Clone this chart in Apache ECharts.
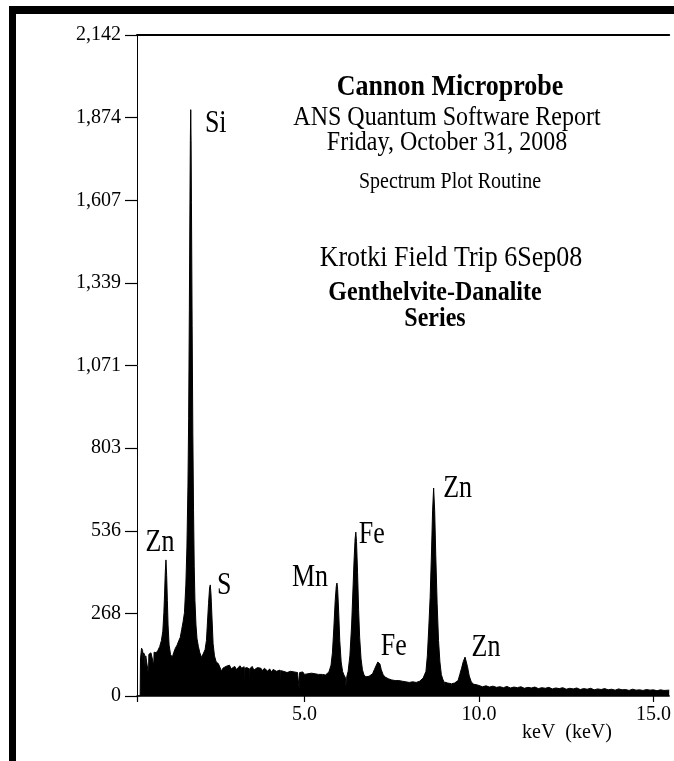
<!DOCTYPE html>
<html>
<head>
<meta charset="utf-8">
<script src="https://cdn.jsdelivr.net/npm/echarts@6/dist/echarts.min.js"></script>
<style>
html,body{margin:0;padding:0;background:#fff;}
#chart{width:674px;height:761px;}
</style>
</head>
<body>
<div id="chart"></div>
<script>
// ---- data ----
const spectrumKeV = [
0.20,0.29,0.30,0.33,0.36,0.38,0.39,0.42,0.44,0.45,0.50,0.53,0.54,0.60,0.65,0.68,0.69,0.75,0.80,0.85,
0.90,0.94,0.97,0.99,1.01,1.03,1.05,1.07,1.09,1.12,1.16,1.21,1.25,1.30,1.35,1.40,1.44,1.48,1.52,1.56,
1.60,1.63,1.66,1.68,1.70,1.72,1.73,1.74,1.75,1.76,1.78,1.80,1.82,1.84,1.86,1.89,1.92,1.96,2.00,2.05,
2.10,2.15,2.19,2.22,2.25,2.28,2.30,2.32,2.35,2.38,2.42,2.47,2.53,2.58,2.62,2.66,2.70,2.75,2.80,2.85,
2.90,2.95,3.00,3.05,3.10,3.15,3.20,3.27,3.28,3.29,3.35,3.41,3.42,3.43,3.50,3.55,3.60,3.65,3.70,3.75,
3.80,3.85,3.90,3.95,4.00,4.05,4.10,4.15,4.20,4.25,4.30,4.31,4.32,4.40,4.45,4.50,4.55,4.60,4.65,4.70,
4.75,4.80,4.84,4.85,4.86,4.90,4.95,5.00,5.05,5.10,5.15,5.20,5.25,5.30,5.35,5.40,5.45,5.50,5.51,5.52,
5.60,5.65,5.70,5.76,5.80,5.84,5.88,5.91,5.93,5.95,5.98,6.01,6.05,6.09,6.13,6.17,6.19,6.20,6.21,6.25,
6.30,6.35,6.39,6.42,6.45,6.47,6.49,6.52,6.55,6.58,6.62,6.66,6.70,6.75,6.80,6.85,6.90,6.95,7.00,7.05,
7.10,7.13,7.16,7.20,7.25,7.30,7.35,7.40,7.45,7.50,7.55,7.60,7.65,7.70,7.75,7.80,7.85,7.90,7.95,8.00,
8.05,8.10,8.15,8.20,8.25,8.30,8.35,8.40,8.44,8.48,8.52,8.56,8.60,8.64,8.67,8.70,8.73,8.76,8.80,8.84,
8.88,8.92,8.96,9.00,9.01,9.02,9.10,9.15,9.20,9.21,9.22,9.30,9.35,9.40,9.45,9.50,9.55,9.60,9.63,9.67,
9.72,9.78,9.85,9.90,9.95,10.0,10.1,10.2,10.3,10.4,10.5,10.6,10.7,10.8,10.9,11.0,11.1,11.2,11.3,11.4,
11.5,11.6,11.7,11.8,11.9,12.0,12.1,12.2,12.3,12.4,12.5,12.6,12.7,12.8,12.9,13.0,13.1,13.2,13.3,13.4,
13.5,13.6,13.7,13.8,13.9,14.0,14.1,14.2,14.3,14.4,14.5,14.6,14.7,14.8,14.9,15.0,15.1,15.2,15.3,15.45
];
const spectrumCounts = [
0,0,120,155,148,90,140,132,60,130,128,70,135,140,138,100,142,140,148,160,
180,210,270,330,400,441,390,310,230,165,135,125,140,155,165,180,190,215,240,270,
360,480,680,900,1250,1650,1820,1900,1800,1600,1200,850,600,420,310,230,185,160,140,125,
130,150,180,240,300,350,360,330,250,170,130,110,105,92,80,90,86,96,90,100,
88,94,96,86,92,98,90,95,15,90,92,88,20,88,96,84,88,92,86,90,
82,90,86,80,88,78,86,82,80,84,84,20,82,80,86,76,82,80,74,78,
82,76,78,20,76,72,78,70,76,72,68,74,70,72,66,70,64,70,20,70,
68,74,78,100,140,220,310,355,366,345,270,180,110,80,68,60,60,15,62,80,
130,230,350,440,510,531,500,400,280,190,120,85,70,62,58,64,60,72,85,98,
110,112,104,85,70,62,60,56,60,52,56,50,56,50,54,48,52,46,50,44,
50,46,52,44,50,48,54,58,62,80,130,220,320,470,600,674,600,460,300,180,
110,70,55,45,10,45,42,46,40,10,40,42,46,50,70,90,112,126,120,95,
65,45,38,34,36,34,30,33,29,32,28,30,27,31,26,29,27,30,25,28,
26,29,24,27,25,28,23,26,24,27,22,25,23,26,21,24,22,25,20,23,
21,24,20,22,19,23,20,21,18,22,19,20,18,21,19,20,17,20,18,19
];
const peakNames = ['Zn','Si','S','Mn','Fe','Fe','Zn','Zn'];
const peakKeV = [1.03,1.74,2.30,5.93,6.47,7.13,8.70,9.60];
const peakCounts = [441,1900,360,366,531,112,674,126];
const yTickLabels = ['0','268','536','803','1,071','1,339','1,607','1,874','2,142'];
const xTickValues = [5,10,15];
const titleLines = ['Cannon Microprobe','ANS Quantum Software Report','Friday, October 31, 2008',
  'Spectrum Plot Routine','Krotki Field Trip 6Sep08','Genthelvite-Danalite','Series'];
const xAxisName = 'keV  (keV)';

// ---- styling ----
const FONT = '"Liberation Serif", "Times New Roman", serif';
const yMax = 2142, yStep = 2142 / 8;
const labelOffsets = [[-6,-17],[25,14],[14,1],[-27,-5],[16,3],[15,-14],[24,1],[21,-9]];
const titleStyle = [
  {x:450,y:87,size:26,bold:true},
  {x:447,y:118,size:24},
  {x:447,y:143,size:24},
  {x:450,y:182,size:20},
  {x:451,y:258,size:26},
  {x:435,y:293,size:24,bold:true},
  {x:435,y:319,size:24,bold:true}
];

const chart = echarts.init(document.getElementById('chart'), null, {renderer:'canvas'});
const series = spectrumKeV.map((k,i)=>[k, spectrumCounts[i]]);

const graphics = [
  {type:'rect', shape:{x:9,y:6,width:665,height:8}, style:{fill:'#000'}, silent:true},
  {type:'rect', shape:{x:9,y:6,width:7,height:755}, style:{fill:'#000'}, silent:true}
];
titleLines.forEach((t,i)=>{
  const s = titleStyle[i];
  graphics.push({type:'text', x:s.x, y:s.y, scaleY:1.12, silent:true,
    style:{text:t, fill:'#000', font:(s.bold?'bold ':'')+s.size+'px '+FONT,
      textAlign:'center', textVerticalAlign:'middle'}});
});
graphics.push({type:'text', x:522, y:733, silent:true,
  style:{text:xAxisName, fill:'#000', font:'20px '+FONT, textAlign:'left', textVerticalAlign:'middle'}});

chart.setOption({
  animation:false,
  backgroundColor:'#fff',
  grid:{left:137, right:3, top:35, bottom:65, containLabel:false},
  xAxis:[{
    type:'value', min:0.2, max:15.45, position:'bottom',
    axisLine:{show:true, lineStyle:{color:'#000', width:1.5}},
    axisTick:{show:true, length:6, lineStyle:{color:'#000', width:1.2}, customValues:[0.2].concat(xTickValues)},
    axisLabel:{show:true, customValues:xTickValues, formatter:v=>v.toFixed(1), color:'#000',
      fontFamily:FONT, fontSize:20, margin:9},
    splitLine:{show:false}
  },{
    type:'value', min:0.2, max:15.45, position:'top',
    axisLine:{show:true, onZero:false, lineStyle:{color:'#000', width:2}},
    axisTick:{show:false}, axisLabel:{show:false}, splitLine:{show:false}
  }],
  yAxis:{
    type:'value', min:0, max:yMax, interval:yStep,
    axisLine:{show:true, lineStyle:{color:'#000', width:1}},
    axisTick:{show:true, length:12, lineStyle:{color:'#000', width:1.2}},
    axisLabel:{color:'#000', fontFamily:FONT, fontSize:20, margin:16,
      formatter:v=>yTickLabels[Math.round(v/yStep)]},
    splitLine:{show:false}
  },
  series:[{
    type:'line', data:series, showSymbol:false, symbol:'none', sampling:null,
    lineStyle:{color:'#000', width:1}, areaStyle:{color:'#000', opacity:1},
    silent:true, z:2
  }],
  graphic:graphics
});

// peak labels placed through the chart's own scales
peakNames.forEach((n,i)=>{
  const p = chart.convertToPixel({seriesIndex:0}, [peakKeV[i], peakCounts[i]]);
  graphics.push({type:'text', x:p[0]+labelOffsets[i][0], y:p[1]+labelOffsets[i][1],
    scaleY:1.18, silent:true, z:10,
    style:{text:n, fill:'#000', font:'26px '+FONT, textAlign:'center', textVerticalAlign:'middle'}});
});
chart.setOption({graphic:graphics}, {replaceMerge:['graphic']});
</script>
</body>
</html>
